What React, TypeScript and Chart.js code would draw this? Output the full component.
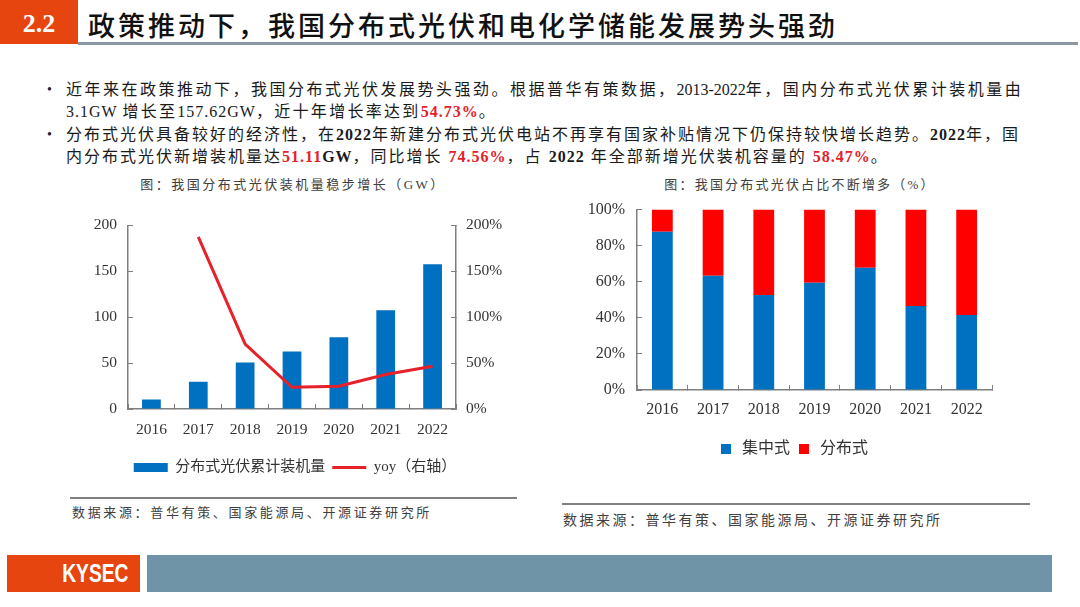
import React, { useEffect, useRef } from 'react';
import { Chart, registerables } from 'chart.js';

Chart.register(...registerables);

// ---------------- data ----------------
const years = ['2016', '2017', '2018', '2019', '2020', '2021', '2022'];
const cumulativeGW = [10.32, 29.66, 50.61, 62.63, 78.15, 107.5, 157.62];
const yoyPct = [null, 187.4, 70.6, 23.7, 24.8, 37.6, 46.6];
const gwTicks = [0, 50, 100, 150, 200];
const yoyTicks = [0, 50, 100, 150, 200];
const barSeriesName = '分布式光伏累计装机量';
const lineSeriesName = 'yoy（右轴）';

const centralizedShare = [87.7, 63.4, 52.6, 59.5, 67.8, 46.6, 41.53];
const distributedShare = [12.3, 36.6, 47.4, 40.5, 32.2, 53.4, 58.47];
const shareTicks = [0, 20, 40, 60, 80, 100];
const shareSeriesNames = ['集中式', '分布式'];

// ---------------- styles ----------------
const FONT = "'Liberation Serif', 'Noto Sans CJK SC', serif";
const BLUE = '#0070C0';
const RED = '#FF0000';
const LINE_RED = '#E8202A';
const AXIS = '#7F7F7F';
const TICK_TXT = '#333333';
const ORANGE = '#E6450F';

type Seg = { t: string; latin?: boolean; bold?: boolean; red?: boolean };

const line1: Seg[] = [
  { t: '近年来在政策推动下，我国分布式光伏发展势头强劲。根据普华有策数据，' },
  { t: '2013-2022', latin: true },
  { t: '年，国内分布式光伏累计装机量由' },
];
const line2: Seg[] = [
  { t: '3.1GW ', latin: true },
  { t: '增长至' },
  { t: '157.62GW', latin: true },
  { t: '，近十年增长率达到' },
  { t: '54.73%', latin: true, bold: true, red: true },
  { t: '。' },
];
const line3: Seg[] = [
  { t: '分布式光伏具备较好的经济性，在' },
  { t: '2022', latin: true, bold: true },
  { t: '年新建分布式光伏电站不再享有国家补贴情况下仍保持较快增长趋势。' },
  { t: '2022', latin: true, bold: true },
  { t: '年，国' },
];
const line4: Seg[] = [
  { t: '内分布式光伏新增装机量达' },
  { t: '51.11', latin: true, bold: true, red: true },
  { t: 'GW', latin: true, bold: true },
  { t: '，同比增长 ' },
  { t: '74.56%', latin: true, bold: true, red: true },
  { t: '，占 ' },
  { t: '2022', latin: true, bold: true },
  { t: ' 年全部新增光伏装机容量的 ' },
  { t: '58.47%', latin: true, bold: true, red: true },
  { t: '。' },
];

function TextLine({ segs, top, ls, latinLs }: { segs: Seg[]; top: number; ls: number; latinLs: number }) {
  return (
    <div
      style={{
        position: 'absolute',
        left: 66,
        top: top - 11,
        height: 22,
        lineHeight: '22px',
        fontSize: 16,
        fontFamily: FONT,
        color: '#1a1a1a',
        whiteSpace: 'nowrap',
      }}
    >
      {segs.map((s, i) => (
        <span
          key={i}
          style={{
            letterSpacing: s.latin ? latinLs : ls,
            fontWeight: s.bold ? 700 : 400,
            color: s.red ? '#E3212B' : undefined,
          }}
        >
          {s.t}
        </span>
      ))}
    </div>
  );
}

function LeftChart() {
  const ref = useRef<HTMLCanvasElement | null>(null);
  useEffect(() => {
    if (!ref.current) return;
    const chart = new Chart(ref.current, {
      type: 'bar',
      data: {
        labels: years,
        datasets: [
          {
            type: 'line',
            label: lineSeriesName,
            data: yoyPct,
            yAxisID: 'y1',
            borderColor: LINE_RED,
            backgroundColor: LINE_RED,
            borderWidth: 3,
            pointRadius: 0,
            pointBorderWidth: 3,
            pointBorderColor: LINE_RED,
            pointStyle: 'line',
            tension: 0,
          } as any,
          {
            type: 'bar',
            label: barSeriesName,
            data: cumulativeGW,
            yAxisID: 'y',
            backgroundColor: BLUE,
            borderWidth: 0,
            categoryPercentage: 1,
            barPercentage: 0.4,
            pointStyle: 'rect',
          } as any,
        ],
      },
      options: {
        responsive: false,
        animation: false,
        layout: { padding: { top: 23, left: 0, right: 0, bottom: 0 } },
        plugins: {
          legend: {
            position: 'bottom',
            labels: {
              usePointStyle: true,
              pointStyleWidth: 34,
              boxHeight: 9,
              padding: 7,
              color: TICK_TXT,
              font: { family: FONT, size: 15 },
              sort: (a: any, b: any) => b.datasetIndex - a.datasetIndex,
            },
          },
          tooltip: { enabled: false },
        },
        scales: {
          x: {
            grid: { offset: true, drawOnChartArea: false, drawTicks: true, tickLength: -5, color: AXIS, lineWidth: 1 },
            border: { display: true, color: AXIS, width: 1.5 },
            ticks: { padding: 17, color: TICK_TXT, font: { family: FONT, size: 15.5 }, maxRotation: 0 },
            afterFit: (s: any) => { s.height = 44; },
          },
          y: {
            position: 'left',
            min: 0,
            max: 200,
            afterBuildTicks: (s: any) => { s.ticks = gwTicks.map((value) => ({ value })); },
            grid: { drawOnChartArea: false, drawTicks: true, tickLength: -5, color: AXIS, lineWidth: 1 },
            border: { display: true, color: AXIS, width: 1.5 },
            ticks: { padding: 16, color: TICK_TXT, font: { family: FONT, size: 15.5 } },
            afterFit: (s: any) => { s.width = 68; },
          },
          y1: {
            position: 'right',
            min: 0,
            max: 200,
            afterBuildTicks: (s: any) => { s.ticks = yoyTicks.map((value) => ({ value })); },
            grid: { drawOnChartArea: false, drawTicks: true, tickLength: -5, color: AXIS, lineWidth: 1 },
            border: { display: true, color: AXIS, width: 1.5 },
            ticks: { padding: 15, color: TICK_TXT, font: { family: FONT, size: 15.5 }, callback: (v: any) => v + '%' },
            afterFit: (s: any) => { s.width = 74; },
          },
        },
      } as any,
    });
    return () => chart.destroy();
  }, []);
  return <canvas ref={ref} width={470} height={285} style={{ position: 'absolute', left: 60, top: 200 }} />;
}

function RightChart() {
  const ref = useRef<HTMLCanvasElement | null>(null);
  useEffect(() => {
    if (!ref.current) return;
    const chart = new Chart(ref.current, {
      type: 'bar',
      data: {
        labels: years,
        datasets: [
          {
            label: shareSeriesNames[0],
            data: centralizedShare,
            backgroundColor: BLUE,
            borderWidth: 0,
            categoryPercentage: 1,
            barPercentage: 0.41,
            pointStyle: 'rect',
          } as any,
          {
            label: shareSeriesNames[1],
            data: distributedShare,
            backgroundColor: RED,
            borderWidth: 0,
            categoryPercentage: 1,
            barPercentage: 0.41,
            pointStyle: 'rect',
          } as any,
        ],
      },
      options: {
        responsive: false,
        animation: false,
        layout: { padding: { top: 12, left: 0, right: 0, bottom: 0 } },
        plugins: {
          legend: {
            position: 'bottom',
            labels: {
              usePointStyle: true,
              boxHeight: 10,
              padding: 6,
              color: TICK_TXT,
              font: { family: FONT, size: 16 },
            },
          },
          tooltip: { enabled: false },
        },
        scales: {
          x: {
            stacked: true,
            grid: { offset: true, drawOnChartArea: false, drawTicks: true, tickLength: -5, color: AXIS, lineWidth: 1 },
            border: { display: true, color: AXIS, width: 1.5 },
            ticks: { padding: 15, color: TICK_TXT, font: { family: FONT, size: 16 }, maxRotation: 0 },
            afterFit: (s: any) => { s.height = 45; },
          },
          y: {
            stacked: true,
            position: 'left',
            min: 0,
            max: 100,
            afterBuildTicks: (s: any) => { s.ticks = shareTicks.map((value) => ({ value })); },
            grid: { drawOnChartArea: false, drawTicks: true, tickLength: -5, color: AXIS, lineWidth: 1 },
            border: { display: true, color: AXIS, width: 1.5 },
            ticks: { padding: 17, color: TICK_TXT, font: { family: FONT, size: 16 }, callback: (v: any) => v + '%' },
            afterFit: (s: any) => { s.width = 92; },
          },
          spacer: {
            position: 'right',
            display: true,
            grid: { display: false },
            border: { display: false },
            ticks: { display: false },
            afterFit: (s: any) => { s.width = 49; },
          },
        },
      } as any,
    });
    return () => chart.destroy();
  }, []);
  return <canvas ref={ref} width={496} height={284} style={{ position: 'absolute', left: 545, top: 183 }} />;
}

const smallText = (extra: React.CSSProperties): React.CSSProperties => ({
  position: 'absolute',
  fontFamily: FONT,
  color: '#404040',
  whiteSpace: 'nowrap',
  ...extra,
});

export default function App() {
  return (
    <div
      style={{
        position: 'absolute',
        left: 0,
        top: 0,
        width: 1080,
        height: 607,
        background: '#ffffff',
        overflow: 'hidden',
      }}
    >
      {/* header */}
      <div style={{ position: 'absolute', left: 0, top: 0, width: 78, height: 44, background: ORANGE }} />
      <div
        style={{
          position: 'absolute',
          left: 0,
          top: 8,
          width: 78,
          textAlign: 'center',
          fontFamily: "'Liberation Serif', serif",
          fontWeight: 700,
          fontSize: 26,
          lineHeight: '32px',
          color: '#ffffff',
        }}
      >
        2.2
      </div>
      <div
        style={{
          position: 'absolute',
          left: 88,
          top: 7,
          fontFamily: "'Noto Sans CJK SC', sans-serif",
          fontWeight: 500,
          fontSize: 27,
          lineHeight: '36px',
          letterSpacing: 3,
          color: '#111111',
          whiteSpace: 'nowrap',
        }}
      >
        政策推动下，我国分布式光伏和电化学储能发展势头强劲
      </div>
      <div style={{ position: 'absolute', left: 78, top: 42, width: 1000, height: 3, background: '#8B98A3' }} />

      {/* bullets */}
      <div style={{ position: 'absolute', left: 47, top: 79, fontSize: 14, lineHeight: '22px', color: '#222' }}>•</div>
      <div style={{ position: 'absolute', left: 47, top: 124, fontSize: 14, lineHeight: '22px', color: '#222' }}>•</div>
      <TextLine segs={line1} top={90} ls={2.5} latinLs={0} />
      <TextLine segs={line2} top={112} ls={2.3} latinLs={1} />
      <TextLine segs={line3} top={135} ls={2.0} latinLs={1} />
      <TextLine segs={line4} top={157} ls={2.0} latinLs={1} />

      {/* chart titles */}
      <div style={smallText({ left: 93, width: 400, top: 176, textAlign: 'center', fontSize: 13, lineHeight: '18px', letterSpacing: 2.5 })}>
        图：我国分布式光伏装机量稳步增长（GW）
      </div>
      <div style={smallText({ left: 600, width: 400, top: 176, textAlign: 'center', fontSize: 13, lineHeight: '18px', letterSpacing: 2.2 })}>
        图：我国分布式光伏占比不断增多（%）
      </div>

      <LeftChart />
      <RightChart />

      {/* sources */}
      <div style={{ position: 'absolute', left: 70, top: 497, width: 447, height: 1.5, background: '#808080' }} />
      <div style={smallText({ left: 72, top: 504, fontSize: 13, lineHeight: '18px', letterSpacing: 2.65 })}>
        数据来源：普华有策、国家能源局、开源证券研究所
      </div>
      <div style={{ position: 'absolute', left: 562, top: 503, width: 468, height: 1.5, background: '#808080' }} />
      <div style={smallText({ left: 563, top: 512, fontSize: 14, lineHeight: '18px', letterSpacing: 2.5 })}>
        数据来源：普华有策、国家能源局、开源证券研究所
      </div>

      {/* footer */}
      <div style={{ position: 'absolute', left: 7, top: 555, width: 133, height: 37, background: ORANGE }} />
      <div
        style={{
          position: 'absolute',
          left: 53,
          top: 557,
          width: 80,
          textAlign: 'center',
          fontFamily: "'Liberation Sans', sans-serif",
          fontWeight: 700,
          fontSize: 25,
          lineHeight: '33px',
          color: '#ffffff',
          transform: 'scaleX(0.77)',
          transformOrigin: '50% 50%',
          whiteSpace: 'nowrap',
        }}
      >
        KYSEC
      </div>
      <div style={{ position: 'absolute', left: 147, top: 555, width: 905, height: 37, background: '#6F93A7' }} />
    </div>
  );
}
